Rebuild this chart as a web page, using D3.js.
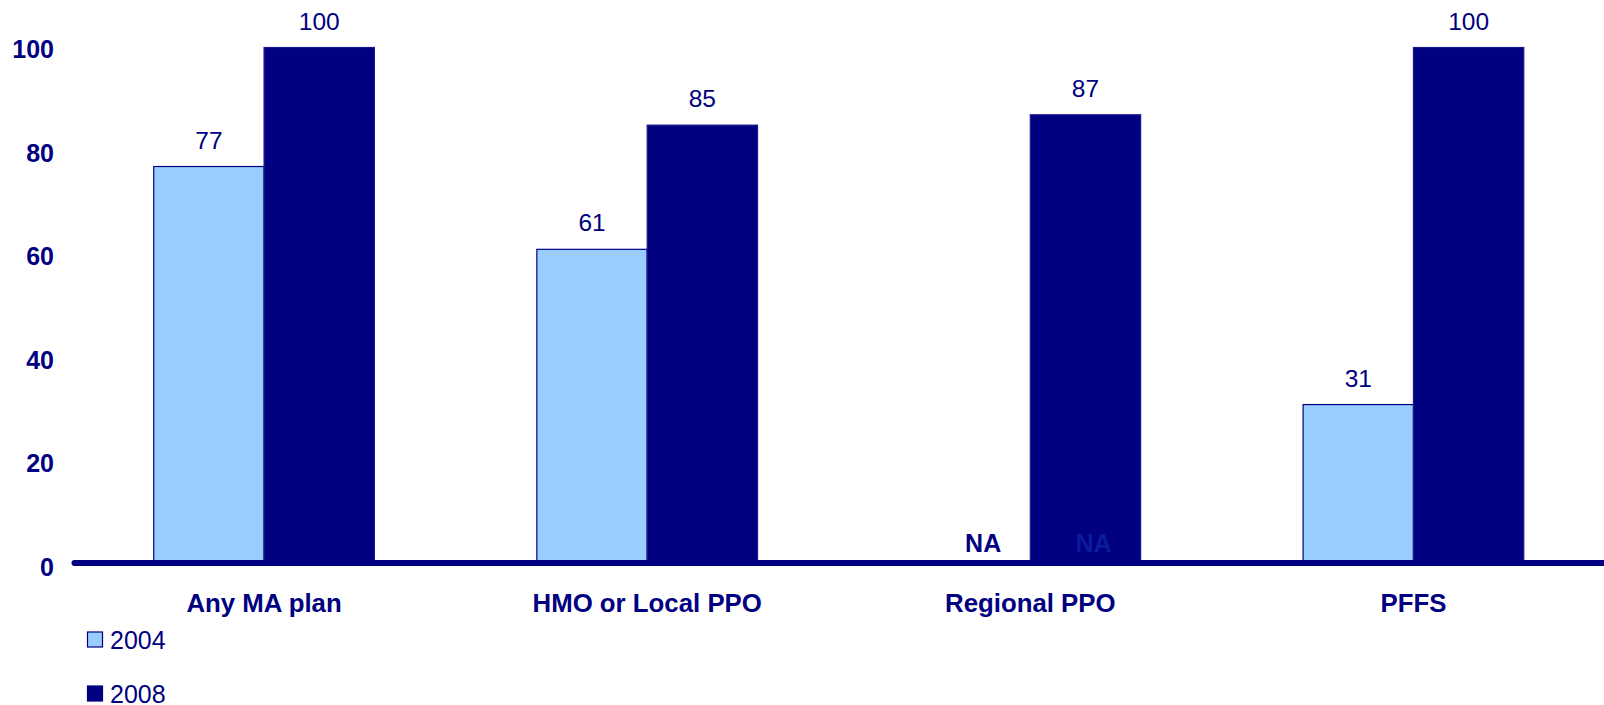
<!DOCTYPE html>
<html>
<head>
<meta charset="utf-8">
<script src="https://cdn.jsdelivr.net/npm/d3@7"></script>
<style>
  html, body { margin: 0; padding: 0; background: #fff; }
  svg { display: block; font-family: Arial, "Liberation Sans", sans-serif; }
</style>
</head>
<body>
<svg id="chart" width="1604" height="705"></svg>
<script>
// Plan types and share values per year (null = not available)
const categories = ["Any MA plan", "HMO or Local PPO", "Regional PPO", "PFFS"];
const years = ["2004", "2008"];
const values2004 = [77, 61, null, 31];
const values2008 = [100, 85, 87, 100];
const yTicks = [0, 20, 40, 60, 80, 100];

const navy = "#000080";
const lightBlue = "#99CCFF";
const colors = { "2004": lightBlue, "2008": navy };
const seriesValues = { "2004": values2004, "2008": values2008 };

const svg = d3.select("#chart");
const W = 1604, H = 705;
const margin = { left: 72.5, right: -1, top: 47.5, bottom: 140 };

const x = d3.scaleBand()
  .domain(categories)
  .range([margin.left, W - margin.right])
  .paddingInner(0).paddingOuter(0);

const barW = x.bandwidth() * 0.288;
const xYear = d3.scaleBand()
  .domain(years)
  .range([x.bandwidth() / 2 - barW, x.bandwidth() / 2 + barW])
  .padding(0);

const y = d3.scaleLinear().domain([0, 100]).range([565, 47.5]);

// Y axis labels only (no domain line, no tick marks)
const yAxis = svg.append("g")
  .attr("transform", `translate(54,0)`)
  .call(d3.axisLeft(y).tickValues(yTicks).tickSize(0).tickPadding(0));
yAxis.select(".domain").remove();
yAxis.selectAll("text")
  .attr("fill", navy)
  .attr("font-size", 25)
  .attr("font-weight", "bold")
  .attr("font-family", 'Arial, "Liberation Sans", sans-serif')
  .attr("dy", "0.41em");

// Bars
const rows = [];
categories.forEach((c, i) => {
  years.forEach(yr => rows.push({ cat: c, year: yr, value: seriesValues[yr][i] }));
});

svg.append("g").selectAll("rect")
  .data(rows.filter(d => d.value !== null))
  .join("rect")
  .attr("x", d => x(d.cat) + xYear(d.year))
  .attr("y", d => y(d.value))
  .attr("width", xYear.bandwidth())
  .attr("height", d => y(0) - y(d.value))
  .attr("fill", d => colors[d.year])
  .attr("stroke", d => d.year === "2004" ? navy : "#1a1a8c")
  .attr("stroke-width", 1.2);

// Value labels
svg.append("g").selectAll("text")
  .data(rows.filter(d => d.value !== null))
  .join("text")
  .attr("x", d => x(d.cat) + xYear(d.year) + xYear.bandwidth() / 2)
  .attr("y", d => y(d.value) - 18)
  .attr("text-anchor", "middle")
  .attr("font-size", 24.5)
  .attr("fill", navy)
  .text(d => d.value);

// "NA" markers where no value exists for a category
const naCat = categories[values2004.indexOf(null)];
years.forEach(yr => {
  svg.append("text")
    .attr("x", x(naCat) + xYear(yr) + xYear.bandwidth() / 2 + 8)
    .attr("y", 552)
    .attr("text-anchor", "middle")
    .attr("font-size", 25)
    .attr("font-weight", "bold")
    .attr("fill", yr === "2004" ? navy : "#0b1c9a")
    .text("NA");
});

// Baseline axis
svg.append("line")
  .attr("x1", margin.left + 2)
  .attr("x2", W + 5)
  .attr("y1", 563)
  .attr("y2", 563)
  .attr("stroke", navy)
  .attr("stroke-width", 6)
  .attr("stroke-linecap", "round");

// Category labels
svg.append("g").selectAll("text")
  .data(categories)
  .join("text")
  .attr("x", d => x(d) + x.bandwidth() / 2)
  .attr("y", 612)
  .attr("text-anchor", "middle")
  .attr("font-size", 25.8)
  .attr("font-weight", "bold")
  .attr("fill", navy)
  .text(d => d);

// Legend
const legend = svg.append("g");
years.forEach((yr, i) => {
  const ly = 632 + i * 54;
  legend.append("rect")
    .attr("x", 87.5).attr("y", ly)
    .attr("width", 15).attr("height", 15)
    .attr("fill", colors[yr])
    .attr("stroke", navy)
    .attr("stroke-width", 1.2);
  legend.append("text")
    .attr("x", 110).attr("y", ly + 16.5)
    .attr("font-size", 25)
    .attr("fill", navy)
    .text(yr);
});
</script>
</body>
</html>
